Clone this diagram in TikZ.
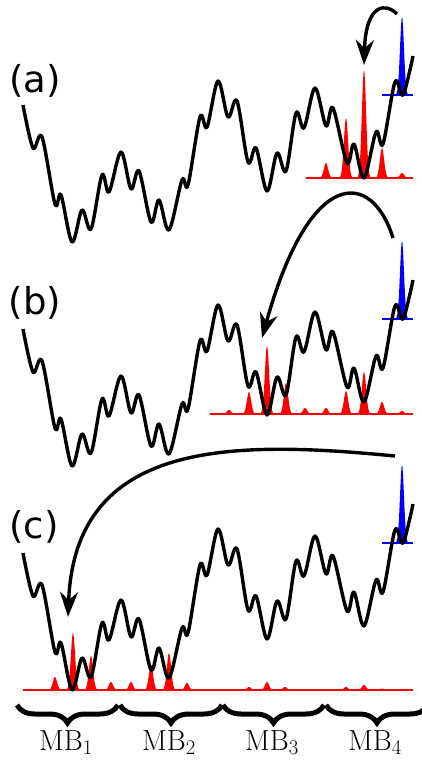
\documentclass[tikz,border=0pt]{standalone}
\usepackage{fontspec}
\setsansfont{DejaVu Sans}
\usetikzlibrary{arrows.meta,decorations.pathreplacing}

\begin{document}
\begin{tikzpicture}[x=1pt,y=-1pt,
    land/.style={line width=3.4pt,line join=round,smooth,tension=0.55},
    base/.style={line width=1.6pt},
    hop/.style={line width=3.4pt,-{Stealth[length=25pt,width=18pt,inset=8pt]}},
    brc/.style={line width=5pt,decorate,decoration={brace,mirror,amplitude=18pt}},
    tag/.style={font=\sffamily\fontsize{37}{44}\selectfont,inner sep=0pt},
    mb/.style={font=\fontsize{29}{35}\selectfont,inner sep=0pt}]
  \useasboundingbox (0,0) rectangle (422,762);
  \clip (0,0) rectangle (422,762);
  % red populations spread over the minima
  \foreach \c/\h in {326/15,346/60,364/108,382/30,402/5}{
    \fill[red] plot[domain=\c-9:\c+9,samples=37] (\x,{178-\h*exp(-((\x-\c)/3)^2)});
  }
  \draw[base,red] (306,178) -- (413,178);
  \foreach \c/\h in {229/4,249/22,267/68,286/31,305/6,326/6,346/23,364/42,382/12,402/3}{
    \fill[red] plot[domain=\c-9:\c+9,samples=37] (\x,{414-\h*exp(-((\x-\c)/3)^2)});
  }
  \draw[base,red] (210,414) -- (413,414);
  \foreach \c/\h in {35/1,55/13,73/57,91/34,111/8,131/8,151/25,169/37,187/7,207/1,
      249/3,267/8,285/3,305/1,326/1,346/3,364/5,382/1.5}{
    \fill[red] plot[domain=\c-9:\c+9,samples=37] (\x,{690-\h*exp(-((\x-\c)/3)^2)});
  }
  \draw[base,red] (23,690) -- (413,690);
  % the same landscape three times, with the walker in blue
  \foreach \dy/\lab in {0/a,224/b,448/c}{
    \begin{scope}[yshift=-\dy pt]
      \fill[blue] plot[domain=393:411,samples=37] (\x,{95-78*exp(-((\x-402)/2.8)^2)});
      \draw[base,blue] (382,95) -- (413,95);
      \draw[land] plot coordinates {(23,105) (33,148) (42,137) (55,204) (61,195)
        (72,242) (82,210) (91,229) (102,175) (109,192) (121,152) (131,189)
        (139,171) (151,222) (159,200) (169,230) (182,180) (188,185) (200,117)
        (207,127) (218,81) (228,117) (237,101) (248,162) (256,148) (267,191)
        (277,153) (286,171) (296,113) (304,128) (315,88) (326,126) (333,108)
        (347,163) (354,144) (364,178) (376,132) (383,144) (395,82) (403,95)
        (413,56)};
    \end{scope}
  }
  \node[tag] (lab-a) at (35,81) {(a)};
  \node[tag] (lab-b) at (35,303) {(b)};
  \node[tag] (lab-c) at (34,527) {(c)};
  % jumps
  \coordinate (from-a) at (397,14);  \coordinate (to-a) at (364,65);
  \coordinate (from-b) at (393,238); \coordinate (to-b) at (262,338);
  \coordinate (from-c) at (395,456); \coordinate (to-c) at (68,617);
  \draw[hop] (from-a) .. controls (387,3) and (366,2) .. (to-a);
  \draw[hop] (from-b) .. controls (372,170) and (310,165) .. (to-b);
  \draw[hop] (from-c) .. controls (230,440) and (75,440) .. (to-c);
  % metabasins
  \foreach \a/\b/\m/\i in {17/118/66/1,120/222/169/2,223/324/272/3,326/428/375/4}{
    \draw[brc] (\a,705) -- (\b,705);
    \node[mb,anchor=base] (mb\i) at (\m,750) {MB$_\i$};
  }
\end{tikzpicture}
\end{document}
